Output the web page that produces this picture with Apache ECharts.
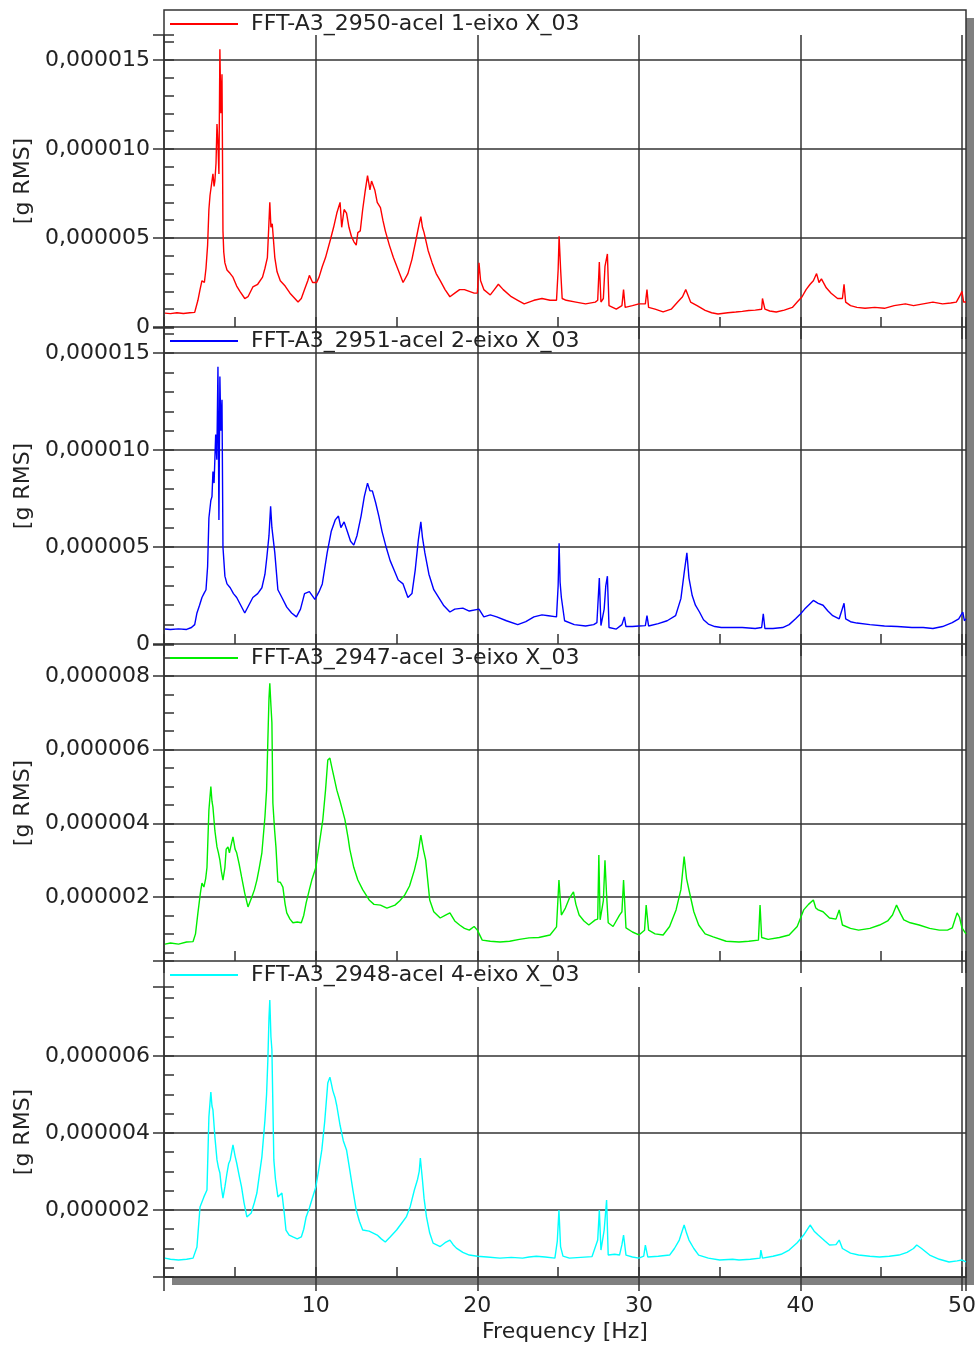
<!DOCTYPE html>
<html>
<head>
<meta charset="utf-8">
<script src="https://cdn.jsdelivr.net/npm/echarts@6/dist/echarts.min.js"></script>
<style>
  html, body { margin: 0; background: #fff; }
  #chart { width: 979px; height: 1349px; }
</style>
</head>
<body>
<div id="chart"></div>
<script>
// [frequency Hz, amplitude in 1e-6 g RMS]
const acel1 = [[0.66,0.78],[1.0,0.75],[1.4,0.8],[1.8,0.76],[2.2,0.8],[2.5,0.82],[2.7,1.5],[2.83,2.1],[2.95,2.6],[3.1,2.5],[3.2,3.3],[3.3,4.6],[3.38,6.6],[3.45,7.4],[3.5,7.5],[3.57,8.2],[3.63,8.6],[3.7,7.9],[3.75,8.2],[3.82,9.2],[3.88,11.4],[3.94,10.3],[4.0,8.6],[4.06,15.6],[4.12,12.0],[4.19,14.2],[4.25,5.4],[4.3,4.2],[4.37,3.6],[4.5,3.2],[4.7,3.0],[4.87,2.8],[5.1,2.3],[5.3,2.0],[5.6,1.6],[5.8,1.7],[6.1,2.25],[6.4,2.4],[6.7,2.8],[6.85,3.3],[7.0,3.9],[7.08,5.5],[7.15,7.0],[7.22,5.6],[7.3,5.8],[7.46,3.9],[7.6,3.1],[7.8,2.6],[8.1,2.3],[8.4,1.9],[8.7,1.6],[8.9,1.4],[9.1,1.6],[9.3,2.1],[9.5,2.6],[9.6,2.9],[9.8,2.5],[10.05,2.5],[10.2,2.8],[10.4,3.4],[10.6,3.9],[10.9,4.9],[11.1,5.6],[11.3,6.4],[11.5,7.0],[11.6,5.6],[11.75,6.6],[11.9,6.4],[12.05,5.6],[12.2,5.1],[12.35,4.8],[12.5,4.6],[12.6,5.3],[12.75,5.4],[12.9,6.6],[13.05,7.6],[13.2,8.5],[13.35,7.7],[13.45,8.2],[13.65,7.7],[13.8,7.0],[14.0,6.7],[14.15,6.0],[14.3,5.4],[14.55,4.6],[14.8,3.9],[15.1,3.2],[15.4,2.5],[15.7,3.0],[15.95,3.8],[16.2,4.9],[16.4,5.8],[16.5,6.2],[16.6,5.6],[16.7,5.3],[16.95,4.3],[17.2,3.6],[17.45,3.0],[17.7,2.6],[18.0,2.1],[18.3,1.7],[18.6,1.9],[18.9,2.1],[19.2,2.1],[19.5,2.0],[19.8,1.9],[20.0,1.9],[20.1,3.6],[20.2,2.6],[20.4,2.1],[20.8,1.8],[21.05,2.1],[21.3,2.4],[21.6,2.1],[22.1,1.7],[22.5,1.5],[22.9,1.3],[23.5,1.5],[24.0,1.6],[24.5,1.5],[24.9,1.5],[25.0,3.2],[25.06,5.1],[25.15,3.3],[25.25,1.6],[25.5,1.5],[26.1,1.4],[26.7,1.3],[27.3,1.4],[27.45,1.5],[27.55,3.65],[27.65,1.4],[27.8,1.6],[27.9,3.4],[28.05,4.1],[28.15,1.2],[28.6,1.0],[28.95,1.2],[29.05,2.1],[29.15,1.1],[29.6,1.2],[30.0,1.3],[30.4,1.3],[30.5,2.1],[30.6,1.1],[31.0,1.0],[31.5,0.85],[32.0,1.0],[32.4,1.4],[32.7,1.7],[32.9,2.1],[33.2,1.4],[33.6,1.2],[34.1,0.93],[34.5,0.8],[34.9,0.73],[35.5,0.8],[36.0,0.84],[36.4,0.88],[36.8,0.93],[37.2,0.95],[37.6,1.0],[37.65,1.6],[37.8,1.0],[38.1,0.9],[38.5,0.84],[39.0,0.95],[39.5,1.1],[39.8,1.4],[40.1,1.7],[40.35,2.1],[40.6,2.4],[40.8,2.6],[41.0,3.0],[41.15,2.5],[41.3,2.7],[41.6,2.2],[41.9,1.9],[42.3,1.6],[42.6,1.6],[42.7,2.4],[42.8,1.4],[43.1,1.2],[43.5,1.1],[44.0,1.05],[44.6,1.1],[45.2,1.05],[45.8,1.2],[46.5,1.3],[47.0,1.2],[47.6,1.3],[48.2,1.4],[48.8,1.3],[49.3,1.35],[49.65,1.4],[49.9,1.8],[50.0,2.0],[50.1,1.4],[50.25,1.4]]

const acel2 = [[0.66,0.77],[1.0,0.75],[1.5,0.78],[2.0,0.75],[2.3,0.85],[2.5,1.0],[2.64,1.6],[2.8,2.0],[2.95,2.4],[3.07,2.6],[3.2,2.8],[3.3,4.0],[3.38,6.5],[3.5,7.4],[3.57,7.6],[3.63,8.9],[3.7,8.3],[3.8,10.8],[3.87,9.5],[3.94,14.3],[4.0,6.4],[4.06,13.8],[4.12,11.0],[4.19,12.6],[4.25,5.0],[4.37,3.5],[4.5,3.1],[4.7,2.9],[4.9,2.6],[5.1,2.4],[5.35,2.0],[5.6,1.6],[5.85,2.0],[6.1,2.4],[6.4,2.6],[6.66,2.9],[6.85,3.6],[6.97,4.5],[7.1,5.6],[7.2,7.1],[7.28,6.0],[7.34,5.9],[7.46,4.7],[7.65,2.8],[7.9,2.4],[8.2,1.9],[8.5,1.6],[8.8,1.4],[9.05,1.8],[9.3,2.6],[9.6,2.7],[9.94,2.3],[10.2,2.7],[10.4,3.1],[10.7,4.7],[10.95,5.8],[11.2,6.4],[11.4,6.6],[11.55,6.0],[11.75,6.3],[11.95,5.8],[12.15,5.3],[12.35,5.1],[12.55,5.6],[12.8,6.6],[13.0,7.6],[13.2,8.3],[13.35,7.9],[13.5,7.9],[13.7,7.3],[13.9,6.6],[14.1,5.8],[14.35,5.0],[14.6,4.3],[14.85,3.8],[15.1,3.3],[15.4,3.1],[15.7,2.4],[15.95,2.6],[16.15,3.8],[16.35,5.4],[16.5,6.3],[16.6,5.5],[16.75,4.7],[17.0,3.6],[17.3,2.8],[17.6,2.4],[17.9,2.0],[18.3,1.65],[18.6,1.8],[19.1,1.85],[19.5,1.7],[20.1,1.8],[20.4,1.4],[20.8,1.5],[21.2,1.4],[21.8,1.2],[22.5,1.0],[23.0,1.15],[23.5,1.4],[24.0,1.5],[24.4,1.46],[24.9,1.4],[25.0,3.0],[25.06,5.2],[25.12,3.2],[25.2,2.4],[25.4,1.2],[26.0,1.0],[26.7,0.93],[27.2,1.0],[27.4,1.1],[27.55,3.4],[27.65,0.95],[27.85,1.8],[27.95,3.0],[28.05,3.5],[28.15,0.85],[28.6,0.77],[28.95,1.0],[29.1,1.4],[29.2,0.9],[29.6,0.9],[30.0,0.93],[30.4,0.95],[30.5,1.46],[30.6,0.93],[31.2,1.05],[31.75,1.2],[32.27,1.46],[32.6,2.34],[32.8,3.66],[32.97,4.7],[33.1,3.4],[33.3,2.5],[33.5,2.0],[33.75,1.65],[34.0,1.25],[34.3,1.03],[34.7,0.9],[35.1,0.85],[35.8,0.85],[36.4,0.85],[37.2,0.8],[37.6,0.85],[37.7,1.55],[37.8,0.8],[38.3,0.8],[38.9,0.85],[39.3,1.0],[39.7,1.3],[40.0,1.55],[40.26,1.8],[40.5,2.0],[40.8,2.25],[41.1,2.1],[41.4,2.0],[41.7,1.7],[42.0,1.46],[42.4,1.3],[42.7,2.1],[42.8,1.3],[43.1,1.15],[43.5,1.08],[44.3,1.0],[45.2,0.93],[46.0,0.9],[46.9,0.85],[47.6,0.85],[48.2,0.8],[48.8,0.9],[49.4,1.1],[49.8,1.3],[50.05,1.65],[50.15,1.2],[50.25,1.3]]

const acel3 = [[0.66,0.72],[1.0,0.75],[1.5,0.72],[2.0,0.78],[2.4,0.79],[2.55,1.0],[2.7,1.57],[2.85,2.1],[2.95,2.38],[3.07,2.27],[3.18,2.5],[3.26,2.8],[3.38,4.36],[3.5,5.0],[3.57,4.6],[3.63,4.44],[3.75,3.8],[3.88,3.36],[3.97,3.2],[4.06,3.0],[4.15,2.7],[4.25,2.46],[4.37,2.8],[4.45,3.3],[4.56,3.36],[4.65,3.2],[4.75,3.4],[4.87,3.63],[5.0,3.3],[5.1,3.2],[5.25,2.9],[5.4,2.55],[5.6,2.1],[5.8,1.73],[5.95,1.9],[6.04,2.0],[6.2,2.2],[6.35,2.46],[6.5,2.8],[6.66,3.2],[6.85,4.18],[6.95,4.9],[7.03,6.26],[7.1,7.4],[7.15,7.8],[7.22,7.2],[7.28,6.73],[7.34,4.55],[7.45,3.8],[7.53,3.36],[7.65,2.41],[7.8,2.4],[7.96,2.27],[8.1,1.8],[8.2,1.57],[8.4,1.4],[8.58,1.3],[8.85,1.32],[9.1,1.3],[9.25,1.5],[9.4,1.84],[9.6,2.2],[9.75,2.46],[10.0,2.8],[10.25,3.55],[10.43,4.09],[10.6,4.9],[10.74,5.72],[10.87,5.77],[11.0,5.5],[11.1,5.3],[11.3,4.9],[11.5,4.6],[11.65,4.35],[11.8,4.1],[12.0,3.6],[12.1,3.3],[12.35,2.8],[12.6,2.46],[12.9,2.2],[13.3,1.92],[13.6,1.8],[14.0,1.78],[14.4,1.7],[14.9,1.78],[15.2,1.9],[15.5,2.05],[15.8,2.3],[16.1,2.73],[16.3,3.1],[16.5,3.68],[16.65,3.3],[16.8,3.0],[17.05,1.92],[17.3,1.6],[17.7,1.43],[18.0,1.5],[18.3,1.57],[18.6,1.35],[18.9,1.24],[19.2,1.15],[19.5,1.1],[19.8,1.2],[20.0,1.1],[20.3,0.83],[20.8,0.8],[21.4,0.78],[22.0,0.8],[22.6,0.85],[23.2,0.89],[23.8,0.9],[24.5,0.97],[24.9,1.19],[25.05,2.46],[25.2,1.51],[25.45,1.7],[25.7,1.97],[25.95,2.14],[26.1,1.8],[26.3,1.51],[26.6,1.35],[26.9,1.24],[27.3,1.38],[27.45,1.4],[27.52,3.14],[27.6,1.38],[27.8,1.9],[27.9,3.0],[28.0,2.05],[28.1,1.3],[28.4,1.2],[28.8,1.51],[28.95,1.6],[29.05,2.46],[29.2,1.16],[29.6,1.05],[30.0,0.97],[30.35,1.1],[30.45,1.78],[30.6,1.1],[31.0,1.0],[31.5,0.97],[31.9,1.2],[32.3,1.65],[32.6,2.2],[32.8,3.1],[32.95,2.5],[33.1,2.19],[33.4,1.6],[33.7,1.24],[34.1,1.0],[34.6,0.92],[35.4,0.8],[36.2,0.78],[36.8,0.8],[37.4,0.83],[37.5,1.78],[37.6,0.9],[38.0,0.85],[38.7,0.9],[39.3,0.97],[39.8,1.2],[40.2,1.65],[40.5,1.8],[40.8,1.92],[40.95,1.7],[41.1,1.65],[41.4,1.6],[41.8,1.43],[42.2,1.4],[42.4,1.65],[42.6,1.24],[43.1,1.15],[43.6,1.1],[44.3,1.15],[44.9,1.24],[45.4,1.35],[45.7,1.51],[45.95,1.78],[46.2,1.55],[46.4,1.38],[46.8,1.3],[47.35,1.24],[48.0,1.15],[48.6,1.1],[49.1,1.1],[49.4,1.16],[49.7,1.57],[49.85,1.45],[50.0,1.16],[50.25,1.0]]

const acel4 = [[0.66,0.75],[1.0,0.72],[1.5,0.7],[2.0,0.72],[2.4,0.75],[2.64,1.04],[2.83,2.08],[3.07,2.34],[3.26,2.52],[3.38,4.42],[3.5,5.06],[3.57,4.7],[3.63,4.6],[3.75,3.9],[3.88,3.3],[3.97,3.1],[4.06,2.96],[4.15,2.6],[4.25,2.31],[4.37,2.6],[4.5,2.96],[4.6,3.2],[4.7,3.3],[4.87,3.69],[5.0,3.4],[5.1,3.22],[5.25,2.9],[5.4,2.6],[5.55,2.2],[5.73,1.82],[5.85,1.8],[6.0,1.92],[6.2,2.2],[6.35,2.44],[6.5,2.9],[6.66,3.38],[6.85,4.34],[6.95,5.0],[7.03,5.9],[7.1,7.0],[7.15,7.45],[7.22,6.5],[7.28,6.16],[7.4,3.3],[7.5,2.8],[7.65,2.34],[7.9,2.44],[8.05,1.9],[8.15,1.48],[8.35,1.35],[8.58,1.3],[8.85,1.25],[9.1,1.3],[9.25,1.5],[9.4,1.82],[9.6,2.05],[9.75,2.26],[10.0,2.6],[10.2,3.1],[10.37,3.56],[10.55,4.3],[10.74,5.3],[10.87,5.45],[10.95,5.3],[11.05,5.1],[11.2,4.9],[11.3,4.7],[11.5,4.2],[11.7,3.8],[11.9,3.56],[12.1,3.04],[12.3,2.5],[12.5,2.0],[12.7,1.7],[12.9,1.48],[13.3,1.45],[13.8,1.35],[14.05,1.25],[14.3,1.17],[14.6,1.3],[15.0,1.48],[15.3,1.65],[15.6,1.82],[15.85,2.1],[16.1,2.52],[16.3,2.8],[16.4,3.0],[16.47,3.35],[16.6,2.78],[16.7,2.3],[16.85,1.82],[17.05,1.4],[17.26,1.14],[17.7,1.05],[18.0,1.15],[18.3,1.22],[18.5,1.1],[18.7,1.01],[19.1,0.9],[19.5,0.83],[20.0,0.8],[20.6,0.78],[21.4,0.75],[22.1,0.77],[22.8,0.75],[23.2,0.78],[23.65,0.8],[24.2,0.78],[24.8,0.75],[24.95,1.2],[25.05,2.0],[25.15,1.05],[25.3,0.8],[25.7,0.75],[26.4,0.77],[27.1,0.79],[27.45,1.22],[27.55,2.0],[27.65,0.96],[27.85,1.48],[28.0,2.26],[28.1,0.83],[28.5,0.85],[28.8,0.83],[28.95,1.1],[29.05,1.35],[29.2,0.83],[29.6,0.78],[30.0,0.75],[30.3,0.8],[30.4,1.09],[30.55,0.78],[31.2,0.8],[31.9,0.83],[32.2,1.0],[32.5,1.22],[32.8,1.61],[32.95,1.4],[33.1,1.22],[33.4,1.0],[33.7,0.83],[34.3,0.75],[35.0,0.7],[35.8,0.72],[36.2,0.7],[36.9,0.72],[37.5,0.75],[37.55,0.96],[37.65,0.75],[38.3,0.8],[38.8,0.85],[39.3,0.96],[39.8,1.15],[40.2,1.35],[40.6,1.61],[40.85,1.45],[41.1,1.35],[41.5,1.2],[41.8,1.09],[42.2,1.1],[42.4,1.22],[42.6,1.0],[43.1,0.88],[43.6,0.83],[44.3,0.8],[44.9,0.78],[45.5,0.8],[46.1,0.83],[46.6,0.9],[47.0,1.0],[47.2,1.09],[47.5,1.0],[48.0,0.83],[48.6,0.72],[49.2,0.65],[49.7,0.68],[50.0,0.7],[50.25,0.65]]

const names = [
  'FFT-A3_2950-acel 1-eixo X_03',
  'FFT-A3_2951-acel 2-eixo X_03',
  'FFT-A3_2947-acel 3-eixo X_03',
  'FFT-A3_2948-acel 4-eixo X_03',
]
const colors = ['#ff0000', '#0000ff', '#00ee00', '#00ffff']

// axis ranges (1e-6 g RMS) and tick steps per panel
const yMin = [0, 0, 0.263, 0.26]
const yMax = [16.4, 16.3, 8.84, 7.79]
const yStep = [5, 5, 2, 2]
const yMinorStep = [1, 1, 0.5, 0.5]
const xMin = 0.6
const xMax = 50.25

// layout
const panelTop = [35, 328, 645, 987]
const panelHeight = [292, 316, 316, 290]
const legendTop = [13, 330, 647, 964]
const FONT = 'DejaVu Sans'

const onStep = (v, step) => Math.abs(v / step - Math.round(v / step)) < 1e-6

const chart = echarts.init(document.getElementById('chart'))
const data = [acel1, acel2, acel3, acel4]

const grid = []
const xAxis = []
const yAxis = []
const legend = []
const series = []

data.forEach((list, i) => {
  const last = i === data.length - 1
  grid.push({ left: 164, right: 13, top: panelTop[i], height: panelHeight[i] })

  // main x axis: grid lines every 10 Hz
  xAxis.push({
    type: 'value', gridIndex: i, position: 'bottom', min: xMin, max: xMax,
    minInterval: 10, maxInterval: 10,
    axisLine: { show: true, onZero: false, lineStyle: { color: '#333', width: 1.5 } },
    axisTick: { show: true, inside: false, length: last ? 14 : 12, lineStyle: { color: '#333', width: 1.5 } },
    splitLine: { show: true, showMinLine: false, showMaxLine: false, lineStyle: { color: '#333', width: 1.5 } },
    axisLabel: {
      show: last, margin: 18, fontFamily: FONT, fontSize: 22, color: '#222',
      formatter: v => (onStep(v, 10) ? String(Math.round(v)) : ''),
    },
    name: last ? 'Frequency [Hz]' : '',
    nameLocation: 'middle', nameGap: 44,
    nameTextStyle: { fontFamily: FONT, fontSize: 22, color: '#222' },
  })
  // minor x ticks every 5 Hz, inside, same bottom edge
  xAxis.push({
    type: 'value', gridIndex: i, position: 'bottom', offset: 0, min: xMin, max: xMax,
    minInterval: 5, maxInterval: 5,
    axisLine: { show: false, onZero: false },
    axisTick: { show: true, inside: true, length: 10, lineStyle: { color: '#333', width: 1.5 } },
    splitLine: { show: false },
    axisLabel: { show: false },
  })

  yAxis.push({
    type: 'value', gridIndex: i, position: 'left', min: yMin[i], max: yMax[i],
    minInterval: yStep[i], maxInterval: yStep[i],
    axisLine: { show: true, onZero: false, lineStyle: { color: '#333', width: 1.5 } },
    axisTick: { show: true, inside: false, length: 11, lineStyle: { color: '#333', width: 1.5 } },
    splitLine: { show: true, showMinLine: false, showMaxLine: false, lineStyle: { color: '#333', width: 1.5 } },
    axisLabel: {
      margin: 14, fontFamily: FONT, fontSize: 22, color: '#222',
      formatter: v => {
        if (!onStep(v, yStep[i])) return ''
        if (Math.abs(v) < 1e-9) return '0'
        return (v / 1e6).toFixed(6).replace('.', ',')
      },
    },
    name: '[g RMS]', nameLocation: 'middle', nameGap: 130,
    nameTextStyle: { fontFamily: FONT, fontSize: 22, color: '#222' },
  })
  // minor y ticks, inside, same left edge
  yAxis.push({
    type: 'value', gridIndex: i, position: 'left', offset: 0, min: yMin[i], max: yMax[i],
    minInterval: yMinorStep[i], maxInterval: yMinorStep[i],
    axisLine: { show: false, onZero: false },
    axisTick: { show: true, inside: true, length: 10, lineStyle: { color: '#333', width: 1.5 } },
    splitLine: { show: false },
    axisLabel: { show: false },
  })

  legend.push({
    data: [names[i]], left: 170, top: legendTop[i], padding: 0,
    icon: 'rect', itemWidth: 68, itemHeight: 2,
    textStyle: { fontFamily: FONT, fontSize: 22, color: '#222', padding: [0, 0, 0, 8] },
  })

  series.push({
    name: names[i], type: 'line', xAxisIndex: i * 2, yAxisIndex: i * 2,
    symbol: 'none', color: colors[i],
    lineStyle: { width: 1.4, color: colors[i] },
    data: list,
  })
})

const option = {
  animation: false,
  backgroundColor: '#fff',
  graphic: [
    { type: 'rect', z: -20, silent: true, shape: { x: 172, y: 18, width: 802, height: 1267 }, style: { fill: '#808080' } },
    { type: 'rect', z: -10, silent: true, shape: { x: 164, y: 10, width: 802, height: 1267 }, style: { fill: '#fff', stroke: '#333', lineWidth: 1.5 } },
  ],
  grid,
  xAxis,
  yAxis,
  legend,
  series,
}

option && chart.setOption(option)
</script>
</body>
</html>
